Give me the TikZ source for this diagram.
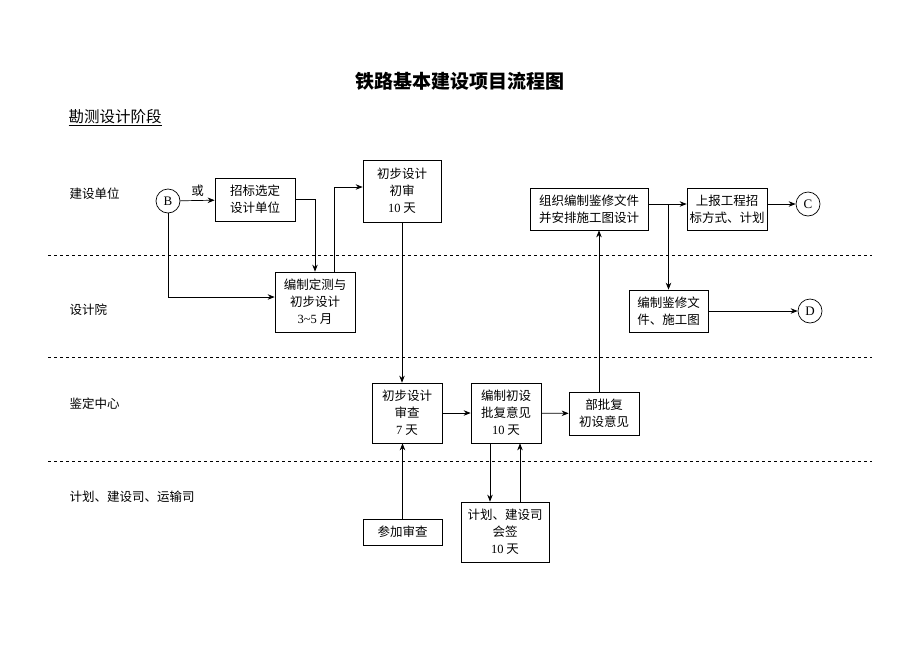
\documentclass[tikz,border=0pt]{standalone}
\usepackage{fontspec}
\setmainfont{Noto Sans CJK SC}
\newfontfamily\latin{Liberation Serif}
\usetikzlibrary{arrows.meta,positioning}

\begin{document}
\begin{tikzpicture}[x=1pt,y=-1pt,->,>={Stealth[length=7pt,width=5.5pt]},line width=0.7pt,
                    box/.style={draw,align=center,inner sep=1pt,
                                font=\fontsize{12.5}{17}\selectfont},
                    conn/.style={draw,circle,minimum size=24pt,inner sep=0pt,
                                 font=\latin\fontsize{13}{13}\selectfont},
                    lane/.style={anchor=west,font=\fontsize{12.5}{14}\selectfont},
                    sep/.style={-,dashed,line width=0.6pt}]
    \useasboundingbox (0,0) rectangle (920,651);
    % titles
    \node (title) at (460,81) {\fontsize{19}{20}\selectfont\bfseries 铁路基本建设项目流程图};
    \node [anchor=west] (stage) at (65,118) {\fontsize{15.5}{16}\selectfont\underline{勘测设计阶段}};
    % lanes
    \draw [sep] (48,255) -- (872,255);
    \draw [sep] (48,357) -- (872,357);
    \draw [sep] (48,461) -- (872,461);
    \node [lane] (l1) at (66,194) {建设单位};
    \node [lane] (l2) at (66,310) {设计院};
    \node [lane] (l3) at (66,404) {鉴定中心};
    \node [lane] (l4) at (66,497) {计划、建设司、运输司};
    % nodes
    \node [conn] (B) at (168,201) {B};
    \node [box,minimum width=80pt,minimum height=43pt] (zhaobiao) at (255,199.5) {招标选定\\设计单位};
    \node [box,minimum width=80pt,minimum height=60pt] (dingce) at (315,302) {编制定测与\\初步设计\\{\latin 3\textasciitilde5} 月};
    \node [box,minimum width=78pt,minimum height=62pt] (chushen) at (402,191) {初步设计\\初审\\{\latin 10} 天};
    \node [box,minimum width=118pt,minimum height=42pt] (zuzhi) at (589,209) {组织编制鉴修文件\\并安排施工图设计};
    \node [box,minimum width=80pt,minimum height=42pt] (shangbao) at (727,209) {上报工程招\\标方式、计划};
    \node [conn] (C) at (808,204) {C};
    \node [box,minimum width=79pt,minimum height=42pt] (jianxiu) at (668.5,311) {编制鉴修文\\件、施工图};
    \node [conn] (D) at (810,311) {D};
    \node [box,minimum width=70pt,minimum height=60pt] (shencha) at (407,413) {初步设计\\审查\\{\latin 7} 天};
    \node [box,minimum width=70pt,minimum height=60pt] (pifu) at (506,413) {编制初设\\批复意见\\{\latin 10} 天};
    \node [box,minimum width=70pt,minimum height=43pt] (bupifu) at (604,413.5) {部批复\\初设意见};
    \node [box,minimum width=79pt,minimum height=26pt] (canjia) at (402.5,532) {参加审查};
    \node [box,minimum width=88pt,minimum height=60pt] (huiqian) at (505,532) {计划、建设司\\会签\\{\latin 10} 天};
    % connectors
    \draw (B) -- node [above,font=\fontsize{12.5}{14}\selectfont] {或} (zhaobiao);
    \draw (zhaobiao.east) -| (dingce.north);
    \draw (B.south) |- ([yshift=5pt]dingce.west);
    \draw ([xshift=19pt]dingce.north) |- ([yshift=4pt]chushen.west);
    \draw (chushen.south) -- (chushen.south |- shencha.north);
    \draw (shencha) -- (pifu);
    \draw (pifu) -- (bupifu);
    \draw ([xshift=-5pt]bupifu.north) -- ([xshift=-5pt]bupifu.north |- zuzhi.south);
    \draw ([yshift=5pt]zuzhi.east) -- ([yshift=5pt]shangbao.west);
    \coordinate (split) at ([yshift=5pt]zuzhi.east -| jianxiu.north);
    \draw (split) -- (jianxiu.north);
    \draw (shangbao.east |- C) -- (C);
    \draw (jianxiu) -- (D);
    \draw (canjia.north) -- (canjia.north |- shencha.south);
    \draw ([xshift=-16pt]pifu.south) -- ([xshift=-16pt]pifu.south |- huiqian.north);
    \draw ([xshift=15pt]huiqian.north) -- ([xshift=15pt]huiqian.north |- pifu.south);
\end{tikzpicture}
\end{document}
